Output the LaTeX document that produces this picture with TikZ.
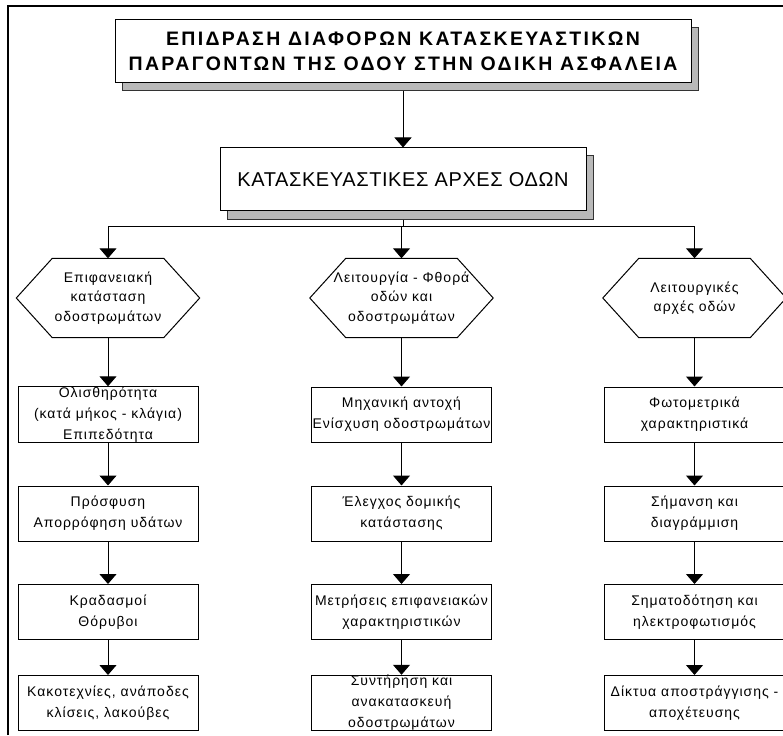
\documentclass[tikz,border=0pt]{standalone}
\usepackage{fontspec}
\setmainfont{Liberation Sans}
\newfontfamily\headfont[LetterSpace=12]{Liberation Sans}
\newfontfamily\mainfont[LetterSpace=3]{Liberation Sans}
\newfontfamily\boxfont[LetterSpace=7]{Liberation Sans}
\usetikzlibrary{arrows.meta,shadows}

\begin{document}
\begin{tikzpicture}[x=1pt, y=-1pt,
  frame/.style={line width=1.4pt},
  headbox/.style={draw, line width=1pt, fill=white, inner sep=0pt, align=center,
    drop shadow={shadow xshift=7pt, shadow yshift=-8pt, fill=gray!55, draw=black!80, opacity=1}},
  box/.style={draw, line width=1pt, fill=white, minimum width=180pt, minimum height=55pt,
    inner sep=0pt, align=center, font=\boxfont\fontsize{14}{21}\selectfont},
  hexnode/.style={minimum width=183pt, minimum height=79pt, inner sep=0pt, align=center,
    font=\boxfont\fontsize{14}{19.5}\selectfont},
  arr/.style={line width=1pt, -{Triangle[width=17pt,length=10pt]}},
  link/.style={line width=1pt}
]
\useasboundingbox (0,0) rectangle (783,735);
\draw[frame] (8,735) -- (8,6) -- (783,6);

% top of the chart
\node[headbox, minimum width=576pt, minimum height=63pt, font=\headfont\bfseries\fontsize{19.5}{25}\selectfont]
  (title) at (403,51.5) {ΕΠΙΔΡΑΣΗ ΔΙΑΦΟΡΩΝ ΚΑΤΑΣΚΕΥΑΣΤΙΚΩΝ\\ΠΑΡΑΓΟΝΤΩΝ ΤΗΣ ΟΔΟΥ ΣΤΗΝ ΟΔΙΚΗ ΑΣΦΑΛΕΙΑ};
\node[headbox, minimum width=366pt, minimum height=63pt, font=\mainfont\fontsize{20}{24}\selectfont]
  (main) at (403,179.5) {ΚΑΤΑΣΚΕΥΑΣΤΙΚΕΣ ΑΡΧΕΣ ΟΔΩΝ};
\coordinate (fork) at (403,226);

% the three groups
\node[hexnode] (hexL) at (108,298) {Επιφανειακή\\κατάσταση\\οδοστρωμάτων};
\node[hexnode] (hexM) at (401.5,298) {Λειτουργία - Φθορά\\οδών και\\οδοστρωμάτων};
\node[hexnode] (hexR) at (694.5,298) {Λειτουργικές\\αρχές οδών};

\node[box] (L1) at (108,414.5) {Ολισθηρότητα\\(κατά μήκος - κλάγια)\\Επιπεδότητα};
\node[box] (L2) at (108,513.5) {Πρόσφυση\\Απορρόφηση υδάτων};
\node[box] (L3) at (108,612) {Κραδασμοί\\Θόρυβοι};
\node[box] (L4) at (108,703) {Κακοτεχνίες, ανάποδες\\κλίσεις, λακούβες};

\node[box] (M1) at (401.5,414.5) {Μηχανική αντοχή\\Ενίσχυση οδοστρωμάτων};
\node[box] (M2) at (401.5,513.5) {Έλεγχος δομικής\\κατάστασης};
\node[box] (M3) at (401.5,612) {Μετρήσεις επιφανειακών\\χαρακτηριστικών};
\node[box] (M4) at (401.5,703) {Συντήρηση και\\ανακατασκευή\\οδοστρωμάτων};

\node[box] (R1) at (694.5,414.5) {Φωτομετρικά\\χαρακτηριστικά};
\node[box] (R2) at (694.5,513.5) {Σήμανση και\\διαγράμμιση};
\node[box] (R3) at (694.5,612) {Σηματοδότηση και\\ηλεκτροφωτισμός};
\node[box] (R4) at (694.5,703) {Δίκτυα αποστράγγισης -\\αποχέτευσης};

\foreach \c in {L,M,R} {
  \draw[line width=1pt] ([xshift=36pt]hex\c.north west) -- ([xshift=-36pt]hex\c.north east) -- (hex\c.east)
    -- ([xshift=-36pt]hex\c.south east) -- ([xshift=36pt]hex\c.south west) -- (hex\c.west) -- cycle;
  \draw[arr] (fork) -| (hex\c.north);
  \draw[arr] (hex\c.south) -- (\c1.north);
  \draw[arr] (\c1) -- (\c2);
  \draw[arr] (\c2) -- (\c3);
  \draw[arr] (\c3) -- (\c4);
}

\draw[arr] ([yshift=-8pt]title.south) -- (main.north);
\draw[link] ([yshift=-8pt]main.south) -- (fork);
\end{tikzpicture}
\end{document}
